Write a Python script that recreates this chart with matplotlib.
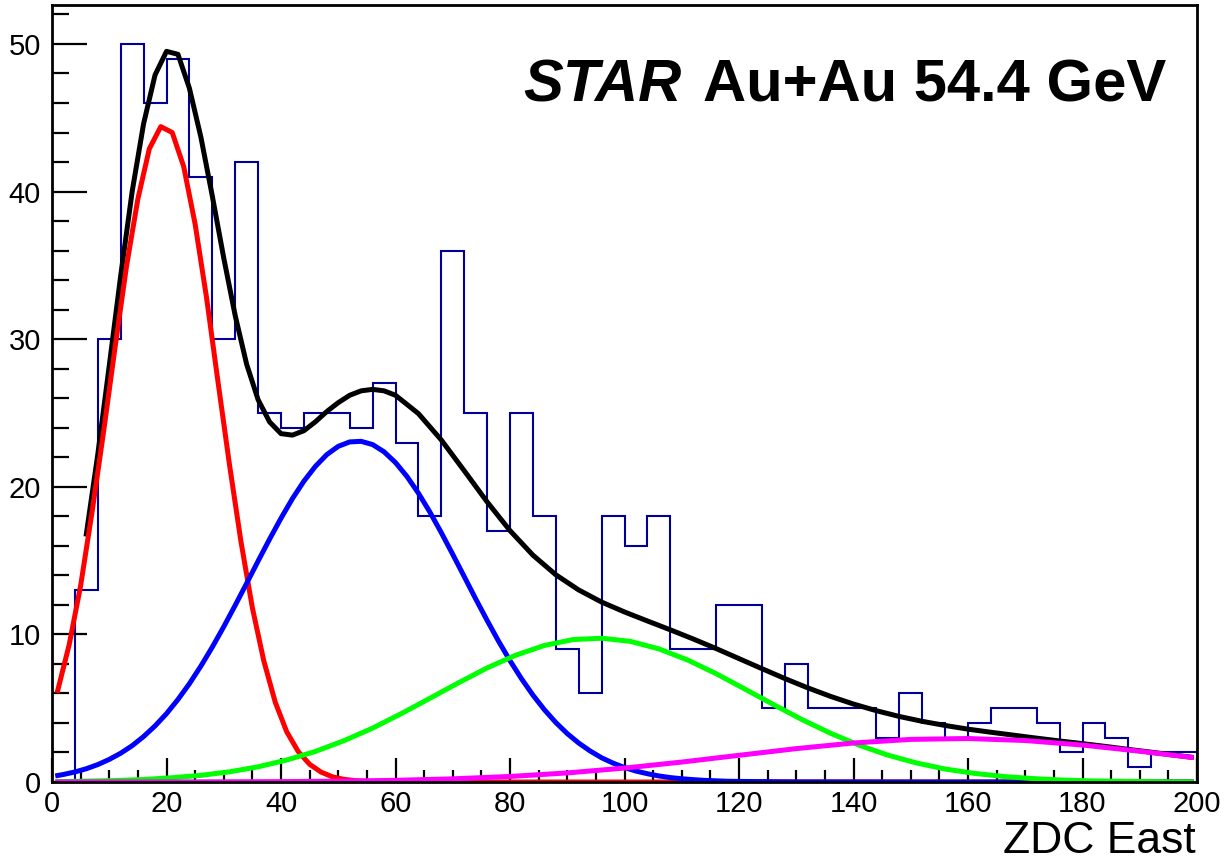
import matplotlib.pyplot as plt
import numpy as np
from matplotlib.ticker import MultipleLocator

plt.rcParams['font.family'] = ['Liberation Sans', 'DejaVu Sans']

# ZDC East histogram, 50 bins of width 4 between 0 and 200
edges = np.arange(0, 204, 4)
counts = [0, 13, 30, 50, 46, 49, 41, 30, 42, 25,
          24, 25, 25, 24, 27, 23, 18, 36, 25, 17,
          25, 18, 9, 6, 18, 16, 18, 9, 9, 12,
          12, 5, 8, 5, 5, 5, 3, 6, 4, 3,
          4, 5, 5, 4, 2, 4, 3, 1, 2, 2]

# fit components
red_x = list(range(1, 61, 2)) + [65, 100, 150, 199]
red_y = [6.2, 9.3, 13.3, 18.3, 23.7, 29.4, 34.9, 39.5, 42.9, 44.4,
         44.0, 41.7, 37.8, 32.8, 27.1, 21.5, 16.3, 11.8, 8.2, 5.4,
         3.4, 2.07, 1.20, 0.67, 0.35, 0.18, 0.09, 0.04, 0.02, 0.01,
         0.0, 0.0, 0.0, 0.0]

blue_x = [1] + list(range(2, 122, 2)) + [130, 150, 199]
blue_y = [0.44,
          0.51, 0.68, 0.90, 1.18, 1.53, 1.95, 2.46, 3.08, 3.80, 4.63,
          5.59, 6.66, 7.85, 9.14, 10.52, 11.97, 13.46, 14.97, 16.45, 17.87,
          19.20, 20.38, 21.38, 22.18, 22.74, 23.04, 23.08, 22.86, 22.37, 21.64,
          20.70, 19.57, 18.29, 16.89, 15.42, 13.92, 12.41, 10.95, 9.54, 8.22,
          7.00, 5.89, 4.90, 4.03, 3.28, 2.64, 2.10, 1.64, 1.28, 0.98,
          0.74, 0.56, 0.41, 0.30, 0.22, 0.16, 0.11, 0.08, 0.05, 0.04,
          0.007, 0.0, 0.0]

green_x = list(range(1, 200, 5)) + [199]
green_y = [0.03, 0.06, 0.10, 0.17, 0.29, 0.45, 0.69, 1.03, 1.49, 2.07,
           2.80, 3.65, 4.63, 5.67, 6.72, 7.73, 8.59, 9.25, 9.65, 9.74,
           9.53, 9.02, 8.27, 7.34, 6.30, 5.25, 4.23, 3.30, 2.49, 1.82,
           1.29, 0.88, 0.59, 0.38, 0.24, 0.14, 0.08, 0.05, 0.03, 0.01,
           0.01]

mag_x = [1, 20, 40, 50, 60, 70, 80, 90, 100, 110, 120, 130, 140, 150, 160, 170, 180, 190, 199]
mag_y = [0.0, 0.005, 0.026, 0.057, 0.114, 0.214, 0.375, 0.615, 0.943, 1.351,
         1.808, 2.261, 2.643, 2.887, 2.946, 2.810, 2.504, 2.085, 1.669]

# total fit
total_x = list(range(6, 62, 2)) + list(range(64, 200, 4)) + [199]
total_y = [16.8, 22.2, 28.2, 34.3, 40.0, 44.6, 47.9, 49.5, 49.3, 47.0,
           43.7, 39.7, 35.5, 31.6, 28.3, 25.9, 24.4, 23.6, 23.5, 23.8,
           24.4, 25.1, 25.7, 26.2, 26.5, 26.6, 26.5, 26.2,
           24.96, 23.17, 21.09, 18.98, 17.03, 15.37, 14.04, 13.01, 12.19, 11.52,
           10.91, 10.31, 9.69, 9.04, 8.36, 7.68, 7.01, 6.38, 5.80, 5.28,
           4.83, 4.44, 4.11, 3.83, 3.58, 3.37, 3.17, 2.97, 2.78, 2.60,
           2.41, 2.21, 2.02, 1.82, 1.68]

fig = plt.figure(figsize=(12.24, 8.67), dpi=100)
ax = fig.add_axes([52 / 1224, 85 / 867, 1145 / 1224, 777 / 867])

ax.stairs(counts, edges, color='#000099', lw=1.5, zorder=1)
ax.plot(total_x, total_y, color='black', lw=3.6, zorder=2)
ax.plot(red_x, red_y, color='#ff0000', lw=3.6, zorder=3)
ax.plot(blue_x, blue_y, color='#0000ff', lw=3.6, zorder=4)
ax.plot(green_x, green_y, color='#00ff00', lw=3.6, zorder=5)
ax.plot(mag_x, mag_y, color='#ff00ff', lw=3.6, zorder=6)

ax.set_xlim(0, 200)
ax.set_ylim(0, 52.64)
ax.set_xticks(range(0, 201, 20))
ax.set_yticks(range(0, 51, 10))
ax.xaxis.set_minor_locator(MultipleLocator(5))
ax.yaxis.set_minor_locator(MultipleLocator(2))
ax.tick_params(which='both', direction='in', top=False, right=False, width=1.6, labelsize=21)
ax.tick_params(axis='x', which='major', length=17, pad=6)
ax.tick_params(axis='x', which='minor', length=8.5)
ax.tick_params(axis='y', which='major', length=25, pad=8)
ax.tick_params(axis='y', which='minor', length=12)
for s in ax.spines.values():
    s.set_linewidth(2)
    s.set_zorder(10)

fig.text(523 / 1224, 1 - 102 / 867, 'STAR', fontsize=43, fontweight='bold', style='italic', va='baseline')
fig.text(703 / 1224, 1 - 102 / 867, 'Au+Au 54.4 GeV', fontsize=43, fontweight='bold', va='baseline')
fig.text(1196 / 1224, 1 - 853 / 867, 'ZDC East', fontsize=32, ha='right', va='baseline')

fig.savefig('out.png', dpi=100)
